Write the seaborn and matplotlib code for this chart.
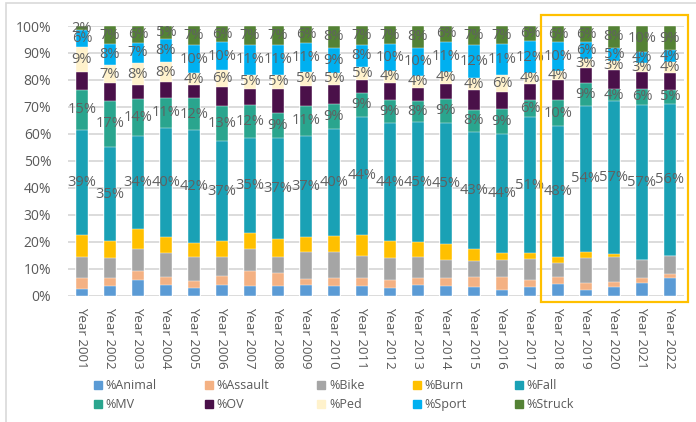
import matplotlib
matplotlib.use("Agg")
import matplotlib.pyplot as plt
from matplotlib.patches import Rectangle
from matplotlib.lines import Line2D
import seaborn as sns
import pandas as pd
import numpy as np

years = ["Year 2001", "Year 2002", "Year 2003", "Year 2004", "Year 2005", "Year 2006",
         "Year 2007", "Year 2008", "Year 2009", "Year 2010", "Year 2011", "Year 2012",
         "Year 2013", "Year 2014", "Year 2015", "Year 2016", "Year 2017", "Year 2018",
         "Year 2019", "Year 2020", "Year 2021", "Year 2022"]

series_names = ["%Animal", "%Assault", "%Bike", "%Burn", "%Fall",
                "%MV", "%OV", "%Ped", "%Sport", "%Struck"]

animal  = [2.5, 3.7, 5.7, 4.0, 3.0, 4.1, 3.7, 3.7, 4.0, 3.7, 3.7, 3.0, 4.0, 3.7, 3.3, 2.1, 3.2, 4.3, 2.1, 3.2, 4.6, 6.7]
assault = [4.2, 3.0, 3.4, 3.0, 2.4, 3.3, 5.4, 4.8, 2.3, 3.0, 3.0, 3.0, 2.4, 3.0, 3.7, 4.9, 2.6, 2.7, 2.5, 1.7, 2.1, 1.3]
bike    = [7.6, 7.4, 8.3, 8.9, 8.9, 6.9, 8.3, 5.8, 10.0, 9.6, 8.0, 8.1, 7.9, 6.5, 5.8, 6.2, 7.8, 5.2, 9.5, 9.4, 6.5, 6.8]
burn    = [8.3, 6.1, 7.3, 6.0, 5.2, 5.9, 5.8, 6.9, 5.6, 5.9, 7.9, 6.1, 5.5, 5.8, 4.4, 2.8, 2.1, 2.2, 2.2, 1.1, 0.2, 0.0]
fall    = [39.0, 35.0, 34.4, 40.4, 41.9, 37.1, 35.4, 37.4, 37.4, 39.7, 43.7, 43.7, 44.6, 45.1, 43.4, 43.9, 50.6, 48.4, 54.0, 56.8, 57.3, 56.4]
mv      = [14.8, 17.0, 14.0, 11.0, 11.9, 13.1, 12.0, 9.2, 11.0, 9.2, 9.0, 8.6, 7.8, 9.0, 8.4, 9.2, 6.4, 9.6, 8.6, 4.4, 6.1, 5.1]
ov      = [6.6, 6.5, 4.9, 5.8, 4.7, 7.0, 6.0, 8.9, 7.6, 6.9, 4.8, 6.5, 4.9, 5.5, 7.2, 6.3, 5.7, 7.4, 5.5, 7.1, 6.2, 6.4]
ped     = [9.1, 7.0, 8.3, 7.6, 4.4, 6.2, 5.4, 5.3, 5.0, 4.7, 4.6, 4.2, 4.4, 4.4, 4.4, 6.4, 4.0, 3.7, 3.4, 3.4, 3.2, 4.0]
sport   = [6.3, 7.6, 7.4, 8.4, 10.4, 10.4, 11.1, 11.1, 10.7, 9.3, 8.4, 10.0, 10.4, 11.1, 12.4, 11.4, 12.0, 10.4, 6.2, 4.9, 4.2, 4.3]
struck  = [1.6, 6.7, 6.3, 4.9, 7.2, 6.0, 6.9, 6.9, 6.4, 8.0, 6.9, 6.8, 8.1, 5.9, 7.0, 6.8, 5.6, 6.1, 6.0, 8.0, 9.6, 9.0]

colors = ["#5B9BD5", "#F4B183", "#A5A5A5", "#FFC000", "#1AA1B5",
          "#2AA58E", "#4A1049", "#FFF2CC", "#00B0F0", "#548235"]
labeled = ["%Fall", "%MV", "%Ped", "%Sport", "%Struck"]

data = [animal, assault, bike, burn, fall, mv, ov, ped, sport, struck]
df = pd.DataFrame({name: vals for name, vals in zip(series_names, data)})
df["Year"] = years
cum = df[series_names].cumsum(axis=1) / 100.0

sns.set_theme(style="white")
plt.rcParams["font.family"] = ["Open Sans", "DejaVu Sans"]
TXT = "#595959"

fig = plt.figure(figsize=(6.96, 4.22), dpi=100)
ax = fig.add_axes([68 / 696, (422 - 295.7) / 422, (684 - 68) / 696, (295.7 - 26) / 422])

# draw stacked bars by overplotting cumulative totals, top layer first
for name, col in zip(reversed(series_names), reversed(colors)):
    sns.barplot(x=df["Year"], y=cum[name], color=col, width=0.4, ax=ax,
                saturation=1, edgecolor="white", linewidth=0.3, zorder=3)

# data labels
for name in labeled:
    idx = series_names.index(name)
    for i in range(len(years)):
        top = cum.iloc[i, idx]
        bot = cum.iloc[i, idx - 1] if idx > 0 else 0.0
        val = df[name].iloc[i]
        ax.text(i, (top + bot) / 2, f"{val:.0f}%", ha="center", va="center",
                color="#606060", fontsize=10.5, zorder=5)

ax.set_ylim(0, 1.0)
ax.set_xlim(-0.5, len(years) - 0.5)
ax.set_yticks(np.arange(0, 1.01, 0.1))
ax.set_yticklabels([f"{int(round(v * 100))}%" for v in np.arange(0, 1.01, 0.1)],
                   color=TXT, fontsize=10)
ax.set_xticks(range(len(years)))
ax.set_xticklabels(years, rotation=-90, ha="center", va="top", color=TXT, fontsize=9.6)
ax.tick_params(axis="both", length=0)
ax.tick_params(axis="y", pad=12)
ax.tick_params(axis="x", pad=8)
ax.set_xlabel("")
ax.set_ylabel("")
for s in ax.spines.values():
    s.set_visible(False)
ax.yaxis.grid(True, color="#D9D9D9", linewidth=1.3, zorder=0)
ax.set_axisbelow(True)

# legend
handles = [Line2D([0], [0], marker="s", linestyle="none", markersize=6,
                  markerfacecolor=c, markeredgecolor=c) for c in colors]
order = [0, 5, 1, 6, 2, 7, 3, 8, 4, 9]
leg = fig.legend([handles[i] for i in order], [series_names[i] for i in order],
                 ncol=5, loc="center", bbox_to_anchor=(0.478, (422 - 395) / 422),
                 frameon=False, fontsize=9, handletextpad=0.1, columnspacing=3.7,
                 labelspacing=0.5, handlelength=1.0)
for t in leg.get_texts():
    t.set_color(TXT)

# highlight box
fig.patches.append(Rectangle((541 / 696, (422 - 302) / 422), (688 - 541) / 696, (302 - 15) / 422,
                             transform=fig.transFigure, fill=False, edgecolor="#FFC000",
                             linewidth=1.6, zorder=10))
# outer chart border
fig.patches.append(Rectangle((6 / 696, -0.1), 1.2, (422 - 3) / 422 + 0.1,
                             transform=fig.transFigure, fill=False, edgecolor="#D9D9D9",
                             linewidth=1.2, zorder=0))

fig.savefig("out.png", dpi=100)
